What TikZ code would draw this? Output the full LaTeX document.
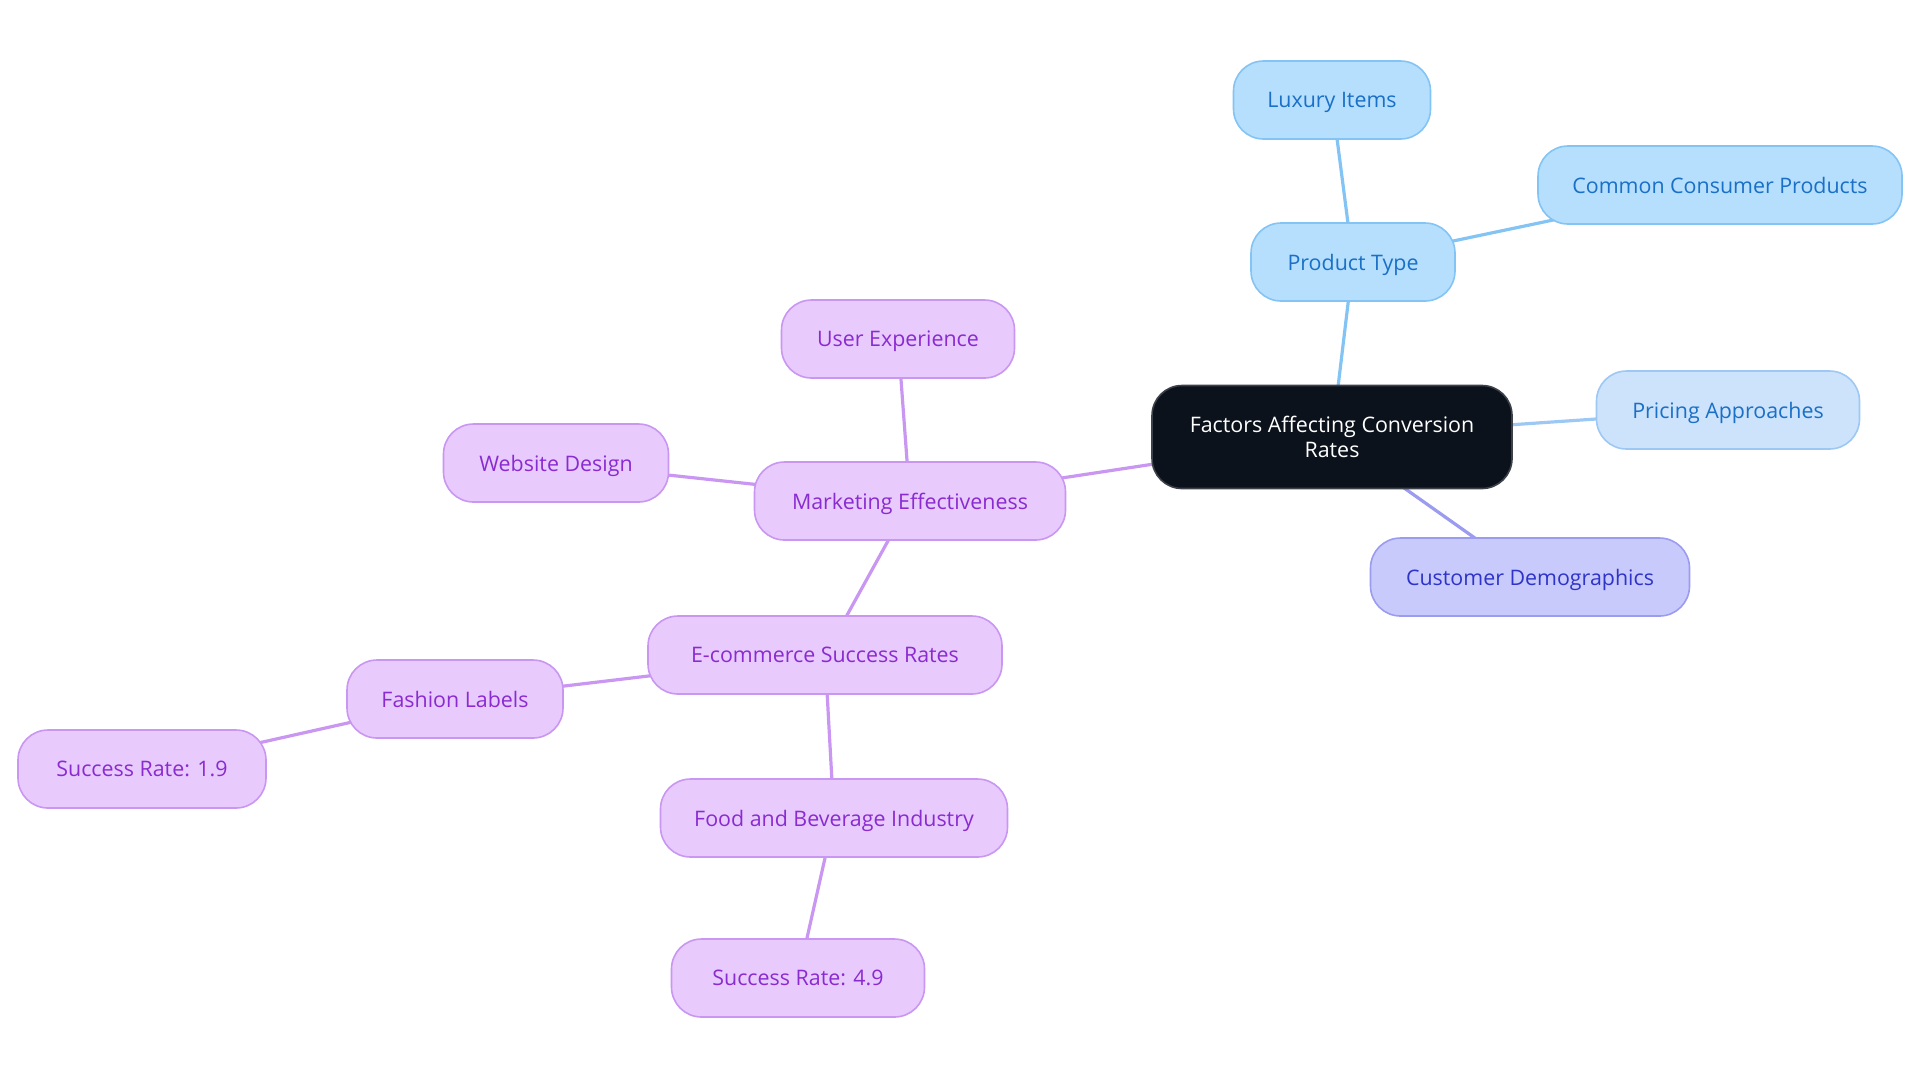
\documentclass[tikz,border=0pt]{standalone}
\usepackage{fontspec}
\setmainfont{Open Sans}
\usetikzlibrary{backgrounds}

\definecolor{bluefill}{HTML}{B5DFFD}
\definecolor{blueline}{HTML}{84C4F5}
\definecolor{bluetext}{HTML}{1A6FC7}
\definecolor{pricefill}{HTML}{CCE3FB}
\definecolor{priceline}{HTML}{9DC8F4}
\definecolor{custfill}{HTML}{C8CAFC}
\definecolor{custline}{HTML}{9B9BF0}
\definecolor{custtext}{HTML}{2F34C8}
\definecolor{purpfill}{HTML}{E8CAFD}
\definecolor{purpline}{HTML}{C996F2}
\definecolor{purptext}{HTML}{8A2BD0}
\definecolor{rootfill}{HTML}{0C121B}

\tikzset{
  topic/.style={draw, line width=0.8pt, rounded corners=15pt, minimum height=39pt,
    inner xsep=0pt, font=\fontsize{10.7}{12.5}\selectfont, align=center},
  leaf/.style={topic, text depth=0pt},
  bluenode/.style={leaf, fill=bluefill, draw=blueline, text=bluetext},
  pricenode/.style={leaf, fill=pricefill, draw=priceline, text=bluetext},
  custnode/.style={leaf, fill=custfill, draw=custline, text=custtext},
  purpnode/.style={leaf, fill=purpfill, draw=purpline, text=purptext},
  rootnode/.style={topic, fill=rootfill, draw=rootfill!80!white, text=white, minimum height=51.5pt},
  link/.style={line width=1.6pt}
}

\begin{document}
\begin{tikzpicture}[x=0.5pt, y=-0.5pt]

    \useasboundingbox (0,0) rectangle (1920,1083);

    % the centre
    \node[rootnode, minimum width=180pt] (root) at (1332,437) {Factors Affecting Conversion\\Rates};

    % blue branch
    \node[bluenode, minimum width=102pt] (ptype) at (1353,262) {Product Type};
    \node[bluenode, minimum width=98.5pt] (luxury) at (1332,100) {Luxury Items};
    \node[bluenode, minimum width=182pt] (common) at (1720,185) {Common Consumer Products};
    \node[pricenode, minimum width=131.5pt] (pricing) at (1728,410) {Pricing Approaches};
    \node[custnode, minimum width=159.5pt] (demo) at (1530,577) {Customer Demographics};

    % purple branch
    \node[purpnode, minimum width=155.5pt] (market) at (910,501) {Marketing Effectiveness};
    \node[purpnode, minimum width=116.5pt] (ux) at (898,339) {User Experience};
    \node[purpnode, minimum width=112.5pt] (web) at (556,463) {Website Design};
    \node[purpnode, minimum width=177pt] (ecom) at (825,655) {E-commerce Success Rates};
    \node[purpnode, minimum width=108pt] (fashion) at (455,699) {Fashion Labels};
    \node[purpnode, minimum width=124pt] (rateone) at (142,769) {Success Rate: 1.9};
    \node[purpnode, minimum width=173.5pt] (food) at (834,818) {Food and Beverage Industry};
    \node[purpnode, minimum width=126.5pt] (ratefour) at (798,978) {Success Rate: 4.9};

    % the links, behind the nodes
    \begin{scope}[on background layer]
    \draw[link, blueline] (root.center) -- (ptype.center);
    \draw[link, blueline] (ptype.center) -- (luxury.center);
    \draw[link, blueline] (ptype.center) -- (common.center);
    \draw[link, priceline] (root.center) -- (pricing.center);
    \draw[link, custline] (root.center) -- (demo.center);
    \draw[link, purpline] (root.center) -- (market.center);
    \draw[link, purpline] (market.center) -- (ux.center);
    \draw[link, purpline] (market.center) -- (web.center);
    \draw[link, purpline] (market.center) -- (ecom.center);
    \draw[link, purpline] (ecom.center) -- (fashion.center);
    \draw[link, purpline] (fashion.center) -- (rateone.center);
    \draw[link, purpline] (ecom.center) -- (food.center);
    \draw[link, purpline] (food.center) -- (ratefour.center);
    \end{scope}

\end{tikzpicture}
\end{document}
